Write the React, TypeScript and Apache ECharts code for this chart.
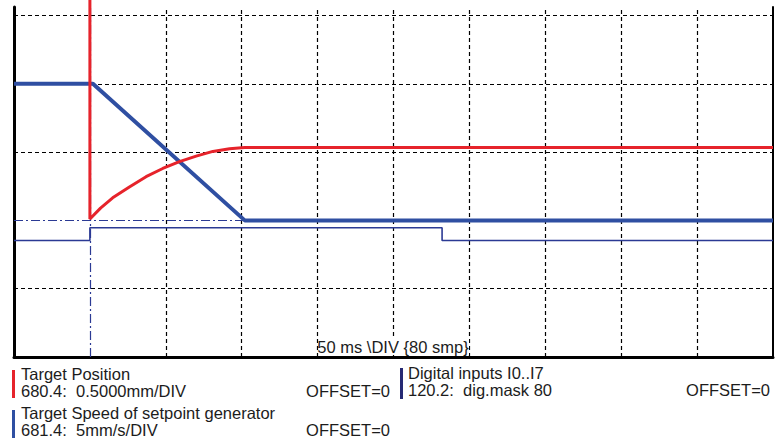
import React, { useEffect, useRef } from "react";
import * as echarts from "echarts";

// time axis in ms (50 ms / DIV, 10 divisions); values in divisions
const X_MIN = 0;
const X_MAX = 500;
const Y_MIN = 0;
const Y_MAX = 5.124;

// Target Position (red), in divisions
const posT = [50, 50, 57, 65, 76, 87, 98, 109, 120, 131, 142, 152, 500];
const posV = [5.23, 2.02, 2.18, 2.33, 2.49, 2.64, 2.76, 2.86, 2.94, 3.01, 3.05, 3.067, 3.067];

// Target Speed of setpoint generator (blue, thick)
const speedT = [0, 52, 152, 500];
const speedV = [4.0, 4.0, 2.0, 2.0];

// Digital inputs I0..I7 (thin blue step)
const digT = [0, 50, 50, 282, 282, 500];
const digV = [1.706, 1.706, 1.893, 1.893, 1.706, 1.706];

// grid lines and cursors
const gridTimes = [100, 150, 200, 250, 300, 350, 400, 450];
const gridLevels = [1, 3, 4, 5];
const cursorTime = 50;
const cursorLevel = 2.0;

const timebaseLabel = "50 ms \\DIV {80 smp}";

const legendNames = ["Target Position", "Target Speed of setpoint generator", "Digital inputs I0..I7"];
const legendScales = ["680.4:  0.5000mm/DIV", "681.4:  5mm/s/DIV", "120.2:  dig.mask 80"];
const legendOffsets = ["OFFSET=0", "OFFSET=0", "OFFSET=0"];

const RED = "#e6232b";
const BLUE = "#2f4fa2";
const THIN = "#2b3a94";
const NAVY = "#262a74";
const TXT = "#1c1c1c";
const FONT = "'Liberation Sans', Arial, sans-serif";

const zip = (a: number[], b: number[]) => a.map((v, i) => [v, b[i]]);

export default function App() {
  const ref = useRef<HTMLDivElement>(null);
  useEffect(() => {
    if (!ref.current) return;
    const chart = echarts.init(ref.current, null, { renderer: "svg" });
    const txt = (text: string, x: number, y: number, align = "left") => ({
      type: "text",
      z: 100,
      style: { text, x, y, fill: TXT, fontSize: 16.5, fontFamily: FONT, align, verticalAlign: "middle" },
    });
    const bar = (x: number, y: number, h: number, color: string) => ({
      type: "rect",
      z: 100,
      shape: { x, y, width: 3, height: h },
      style: { fill: color },
    });
    chart.setOption({
      animation: false,
      backgroundColor: "#ffffff",
      grid: { left: 14, top: 7, width: 759, height: 350 },
      xAxis: {
        type: "value",
        min: X_MIN,
        max: X_MAX,
        axisLine: { show: true, onZero: false, lineStyle: { color: "#000", width: 3 } },
        axisTick: { show: false },
        axisLabel: { show: false },
        splitLine: { show: false },
      },
      yAxis: [
        {
          type: "value",
          min: Y_MIN,
          max: Y_MAX,
          axisLine: { show: true, onZero: false, lineStyle: { color: "#000", width: 3 } },
          axisTick: { show: false },
          axisLabel: { show: false },
          splitLine: { show: false },
        },
        {
          type: "value",
          position: "right",
          min: Y_MIN,
          max: Y_MAX,
          axisLine: { show: true, onZero: false, lineStyle: { color: "#000", width: 2 } },
          axisTick: { show: false },
          axisLabel: { show: false },
          splitLine: { show: false },
        },
      ],
      series: [
        {
          type: "line",
          data: [],
          z: 1,
          silent: true,
          markLine: {
            silent: true,
            z: 1,
            symbol: ["none", "none"],
            label: { show: false },
            lineStyle: { color: "#000", width: 1.2, type: [4, 3] },
            data: [
              ...gridTimes.map((t) => ({ xAxis: t })),
              ...gridLevels.map((v) => ({ yAxis: v })),
            ],
          },
        },
        {
          type: "line",
          data: [],
          z: 2,
          silent: true,
          markLine: {
            silent: true,
            z: 2,
            symbol: ["none", "none"],
            label: { show: false },
            lineStyle: { color: THIN, width: 1.2, type: [9, 3, 2, 3] },
            data: [{ xAxis: cursorTime }, { yAxis: cursorLevel }],
          },
        },
        {
          name: "Digital inputs I0..I7",
          type: "line",
          z: 8,
          data: zip(digT, digV),
          showSymbol: false,
          lineStyle: { color: THIN, width: 1.6 },
        },
        {
          name: "Target Speed of setpoint generator",
          type: "line",
          z: 9,
          data: zip(speedT, speedV),
          showSymbol: false,
          lineStyle: { color: BLUE, width: 4 },
        },
        {
          name: "Target Position",
          type: "line",
          z: 10,
          clip: false,
          data: zip(posT, posV),
          showSymbol: false,
          lineStyle: { color: RED, width: 3 },
        },
      ],
      graphic: [
        {
          type: "rect",
          z: 90,
          shape: { x: 319, y: 338, width: 150, height: 17 },
          style: { fill: "#ffffff" },
        },
        txt(timebaseLabel, 393, 347, "center"),
        bar(12, 370, 28, RED),
        txt(legendNames[0], 21, 374),
        txt(legendScales[0], 21, 391),
        txt(legendOffsets[0], 390, 391, "right"),
        bar(12, 410, 28, BLUE),
        txt(legendNames[1], 21, 413),
        txt(legendScales[1], 21, 430),
        txt(legendOffsets[1], 390, 430, "right"),
        bar(400, 368, 31, NAVY),
        txt(legendNames[2], 408, 373),
        txt(legendScales[2], 408, 390),
        txt(legendOffsets[2], 770, 390, "right"),
      ],
    });
    return () => chart.dispose();
  }, []);
  return (
    <div
      ref={ref}
      style={{ position: "fixed", left: 0, top: 0, width: 780, height: 438, background: "#fff" }}
    />
  );
}
